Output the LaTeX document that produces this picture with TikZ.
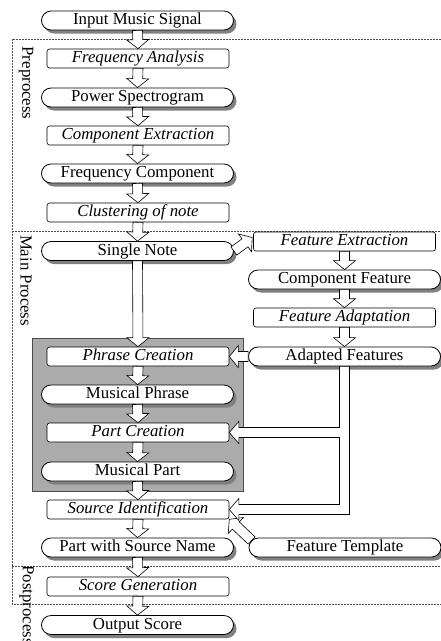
\documentclass[tikz,border=0pt]{standalone}
\usepackage{fontspec}
\setmainfont{Liberation Serif}
\usetikzlibrary{calc,shadows}

\tikzset{
  basefont/.style={font=\fontsize{16.8}{19}\selectfont},
  term/.style={draw, fill=white, rounded corners=9.5pt, minimum width=192pt,
    minimum height=19pt, inner sep=0pt, line width=0.8pt, text height=11.5pt, text depth=3.5pt,
    font=\fontsize{16.8}{19}\selectfont,
    drop shadow={shadow xshift=3pt, shadow yshift=-3.5pt, fill=black!50, opacity=1}},
  proc/.style={draw, fill=white, rounded corners=2.5pt, minimum width=182pt,
    minimum height=19pt, inner sep=0pt, line width=0.6pt, text height=11.5pt, text depth=3.5pt,
    font=\fontsize{16.8}{19}\selectfont\itshape},
  barrow/.style={draw, fill=white, line width=0.6pt, line join=miter},
  frame/.style={draw=black!70, line width=0.5pt, dash pattern=on 2pt off 1pt},
  sidelabel/.style={rotate=-90, inner sep=0pt, font=\fontsize{16.8}{19}\selectfont},
  groupbox/.style={fill=black!33, draw=black!70, line width=0.5pt}
}

\newcommand{\blockarr}[2]{%
  \coordinate (bahead) at ($(#2)!9pt!(#1)$);
  \draw[barrow] ($(#1)!5pt!90:(#2)$) -- ($(bahead)!5pt!90:(#2)$) -- ($(bahead)!11pt!90:(#2)$)
    -- (#2) -- ($(bahead)!11pt!-90:(#2)$) -- ($(bahead)!5pt!-90:(#2)$) -- ($(#1)!5pt!-90:(#2)$) -- cycle;
}

\begin{document}
\begin{tikzpicture}[x=1pt, y=-1pt]
\useasboundingbox (0,0) rectangle (441,641);

% dashed frame
\draw[frame] (441,39) -- (12,39) -- (12,604) -- (441,604);
\draw[frame] (12,231) -- (441,231);
\draw[frame] (12,566) -- (441,566);

\node[sidelabel] (lpre) at (26,83) {Preprocess};
\node[sidelabel] (lmain) at (26,280.5) {Main Process};
\node[sidelabel] (lpost) at (26.5,605) {Postprocess};

% grouping box
\path[groupbox] (32,338) rectangle (243,491);

% main column
\node[term] (IN) at (137.5,20.5) {Input Music Signal};
\node[proc] (FA) at (138,58.5) {Frequency Analysis};
\node[term] (PS) at (137.5,97.5) {Power Spectrogram};
\node[proc] (CE) at (138,135.5) {Component Extraction};
\node[term] (FC) at (137.5,173.5) {Frequency Component};
\node[proc] (CL) at (138,212.5) {Clustering of note};
\node[term] (SN) at (137.5,251) {Single Note};
\node[proc] (PhC) at (138,356.5) {Phrase Creation};
\node[term] (MPh) at (137.5,394.5) {Musical Phrase};
\node[proc] (PaC) at (138,432.5) {Part Creation};
\node[term] (MPa) at (137.5,471.5) {Musical Part};
\node[proc] (SI) at (138,509.5) {Source Identification};
\node[term] (PWS) at (137.5,547.5) {Part with Source Name};
\node[proc] (SG) at (138,586.5) {Score Generation};
\node[term] (OS) at (137.5,625) {Output Score};

% right column
\node[proc] (FE) at (344.5,241.5) {Feature Extraction};
\node[term] (CF) at (344.5,279.5) {Component Feature};
\node[proc] (FAd) at (344.5,317.5) {Feature Adaptation};
\node[term] (AF) at (344.5,356.5) {Adapted Features};
\node[term] (FT) at (345,547.5) {Feature Template};

% vertical block arrows
\blockarr{IN.south}{FA.north}
\blockarr{FA.south}{PS.north}
\blockarr{PS.south}{CE.north}
\blockarr{CE.south}{FC.north}
\blockarr{FC.south}{CL.north}
\blockarr{CL.south}{SN.north}
\blockarr{SN.south}{PhC.north}
\blockarr{PhC.south}{MPh.north}
\blockarr{MPh.south}{PaC.north}
\blockarr{PaC.south}{MPa.north}
\blockarr{MPa.south}{SI.north}
\blockarr{SI.south}{PWS.north}
\blockarr{PWS.south}{SG.north}
\blockarr{SG.south}{OS.north}
\blockarr{FE.south}{CF.north}
\blockarr{CF.south}{FAd.north}
\blockarr{FAd.south}{AF.north}
\blockarr{AF.west}{PhC.east}

% diagonal arrows
\coordinate (fetip) at ($(FE.west)+(-1,-4)$);
\blockarr{SN.east}{fetip}
\coordinate (fttail) at ($(FT.west)+(3,-7)$);
\blockarr{fttail}{SI.south east}

% branching arrow from Adapted Features to Part Creation and Source Identification
\draw[barrow] let \p1=(AF.south), \p2=(PaC.east), \p3=(SI.east) in
  (\x1-5pt,\y1) -- (\x1-5pt,\y2+5pt) -- (\x2+9.5pt,\y2+5pt) -- (\x2+9.5pt,\y2+11pt)
  -- (\p2) -- (\x2+9.5pt,\y2-11pt) -- (\x2+9.5pt,\y2-5pt) -- (\x1-5pt,\y2-5pt)
  -- (\x1-5pt,\y3+5pt) -- (\x3+9.5pt,\y3+5pt) -- (\x3+9.5pt,\y3+11pt)
  -- (\p3) -- (\x3+9.5pt,\y3-11pt) -- (\x3+9.5pt,\y3-5pt) -- (\x1+5pt,\y3-5pt)
  -- (\x1+5pt,\y1) -- cycle;
\end{tikzpicture}
\end{document}
